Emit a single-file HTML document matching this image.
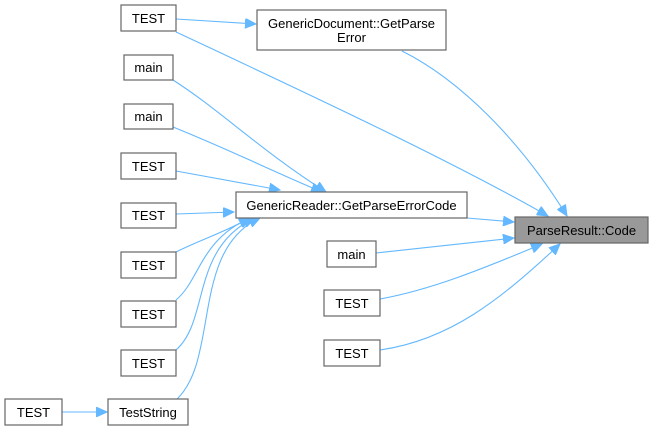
<!DOCTYPE html>
<html><head><style>
body{margin:0;background:#fff;width:653px;height:431px;overflow:hidden}
svg{display:block}
text{font-family:"Liberation Sans",sans-serif;font-size:13px;fill:#000;text-anchor:middle}
rect{fill:#fff;stroke:#666;stroke-width:1.2}
path{fill:none;stroke:#63b8ff;stroke-width:1.1}
polygon{fill:#63b8ff;stroke:#63b8ff}
</style></head><body>
<svg width="653" height="431" viewBox="0 0 653 431">
<defs><marker id="a" markerWidth="12" markerHeight="10" refX="11" refY="5" orient="auto" markerUnits="userSpaceOnUse"><polygon points="0,0 11,5 0,10"/></marker></defs>
<g marker-end="url(#a)">
<path d="M176,19 L256,24"/>
<path d="M176,32 C300,90 450,160 548,216"/>
<path d="M402,51 C460,80 520,140 567,216"/>
<path d="M173,80 C220,110 260,150 326,192"/>
<path d="M173,127 C230,150 270,170 322,192"/>
<path d="M176,171 L280,190"/>
<path d="M176,214 L234,212"/>
<path d="M176,252 C200,240 225,232 250,218"/>
<path d="M176,300 C200,280 200,240 250,218"/>
<path d="M176,350 C210,320 190,250 254,218"/>
<path d="M176,400 C220,360 190,250 260,218"/>
<path d="M62,412 L107,412"/>
<path d="M467,218 L514,222"/>
<path d="M376,253 L514,238"/>
<path d="M380,299 C430,290 480,270 542,244"/>
<path d="M380,350 C450,340 500,300 560,244"/>
</g>
<rect x="121" y="5" width="55" height="26"/><text x="148.5" y="23">TEST</text>
<rect x="257" y="10" width="189" height="40"/><text x="351.5" y="28">GenericDocument::GetParse</text><text x="351.5" y="42">Error</text>
<rect x="124" y="55" width="49" height="25"/><text x="148.5" y="72">main</text>
<rect x="124" y="104" width="49" height="25"/><text x="148.5" y="121">main</text>
<rect x="121" y="153" width="55" height="26"/><text x="148.5" y="171">TEST</text>
<rect x="121" y="203" width="55" height="25"/><text x="148.5" y="220">TEST</text>
<rect x="121" y="252" width="55" height="26"/><text x="148.5" y="270">TEST</text>
<rect x="121" y="301" width="55" height="26"/><text x="148.5" y="319">TEST</text>
<rect x="121" y="350" width="55" height="26"/><text x="148.5" y="368">TEST</text>
<rect x="108" y="399" width="80" height="26"/><text x="148" y="417">TestString</text>
<rect x="5" y="399" width="57" height="26"/><text x="33.5" y="417">TEST</text>
<rect x="236" y="192" width="231" height="26"/><text x="351.5" y="210">GenericReader::GetParseErrorCode</text>
<rect x="515" y="217" width="133" height="26" style="fill:#999"/><text x="581.5" y="235">ParseResult::Code</text>
<rect x="327" y="241" width="49" height="26"/><text x="351.5" y="259">main</text>
<rect x="324" y="290" width="56" height="26"/><text x="352" y="308">TEST</text>
<rect x="324" y="340" width="56" height="26"/><text x="352" y="358">TEST</text>
</svg>
</body></html>
